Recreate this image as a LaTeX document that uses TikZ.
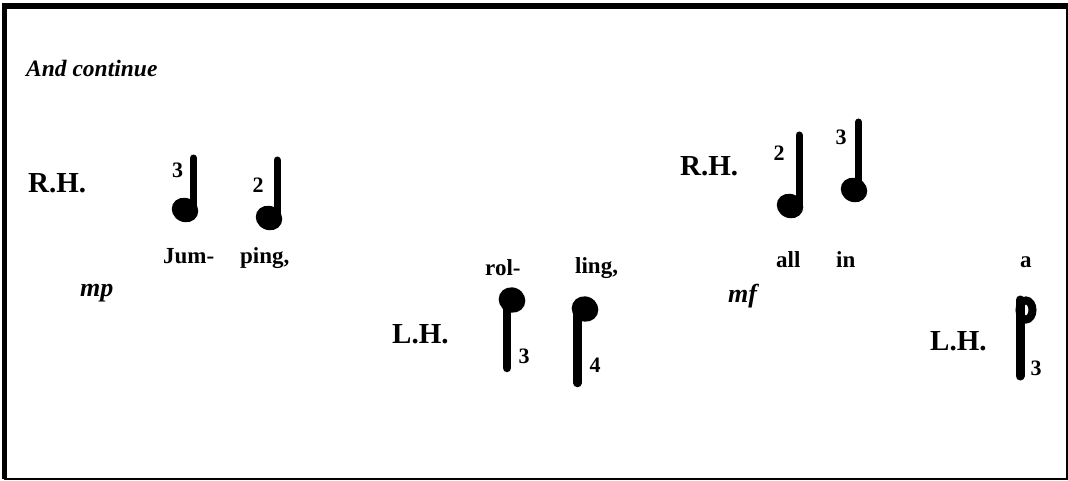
\documentclass[tikz,border=0pt]{standalone}
\usepackage{fontspec}
\setmainfont{Liberation Serif}
\usepackage{tikz}
\tikzset{x=1pt, y=-1pt,
  hand/.style={font=\bfseries\fontsize{29}{31}\selectfont, anchor=base west, inner sep=0pt},
  lyric/.style={font=\bfseries\fontsize{23}{25}\selectfont, anchor=base west, inner sep=0pt},
  finger/.style={font=\bfseries\fontsize{22}{24}\selectfont, inner sep=0pt},
  dyn/.style={font=\bfseries\itshape\fontsize{26}{28}\selectfont, anchor=base west, inner sep=0pt},
  stem/.style={line width=7pt, line cap=round}
}
% head x, head y, stem x, stem end
\newcommand{\noteup}[4]{%
  \fill[rotate around={-25:(#1,#2)}] (#1,#2) ellipse (13.5 and 12);
  \draw[stem] (#3,#2) -- (#3,#4);}
\newcommand{\notedown}[4]{%
  \fill[rotate around={-25:(#1,#2)}] (#1,#2) ellipse (13.5 and 12.5);
  \draw[stem, line width=8.5pt] (#3,#2) -- (#3,#4);}

\begin{document}
\begin{tikzpicture}
    \useasboundingbox (0,0) rectangle (1068,481);
    \fill[white] (0,0) rectangle (1068,481);
    % frame
    \draw[line width=2pt] (4,6) -- (1066.7,6) -- (1066.7,479) -- (4,479);
    \draw[line width=5.5pt] (4.5,479) -- (4.5,5.8) -- (1067.7,5.8);

    \node[font=\bfseries\itshape\fontsize{23.5}{25}\selectfont, anchor=base west, inner sep=0pt] (title) at (26,77) {And continue};

    % first phrase
    \node[hand] (rh1) at (28,193) {R.H.};
    \node[dyn] (mp) at (80,296) {mp};
    \noteup{185}{210}{193.5}{158}
    \noteup{269}{218}{277}{160}
    \node[finger] (f1) at (177.5,170) {3};
    \node[finger] (f2) at (258,185) {2};
    \node[lyric] (jum) at (163,263) {Jum-};
    \node[lyric] (ping) at (240,263) {ping,};

    % second phrase
    \node[hand] (lh1) at (392,343) {L.H.};
    \notedown{512}{300}{507}{368}
    \notedown{585}{309}{577.5}{383}
    \node[finger] (f3) at (524,356) {3};
    \node[finger] (f4) at (595,365) {4};
    \node[lyric] (rol) at (485,275) {rol-};
    \node[lyric] (ling) at (575,273) {ling,};

    % third phrase
    \node[hand] (rh2) at (680,176) {R.H.};
    \noteup{790}{206}{799}{135}
    \noteup{854}{190}{858.5}{122}
    \node[finger] (f5) at (779,153) {2};
    \node[finger] (f6) at (841,137) {3};
    \node[lyric] (all) at (776,267) {all};
    \node[lyric] (in) at (836,267) {in};
    \node[dyn] (mf) at (728,302) {mf};

    % last note
    \node[lyric] (a) at (1020,267) {a};
    \node[hand] (lh2) at (930,350) {L.H.};
    \draw[line width=8pt] (1026,310) ellipse (6.5 and 9.5);
    \draw[stem, line width=9pt] (1020,300) -- (1020,376);
    \node[finger] (f7) at (1036,368) {3};
\end{tikzpicture}
\end{document}
